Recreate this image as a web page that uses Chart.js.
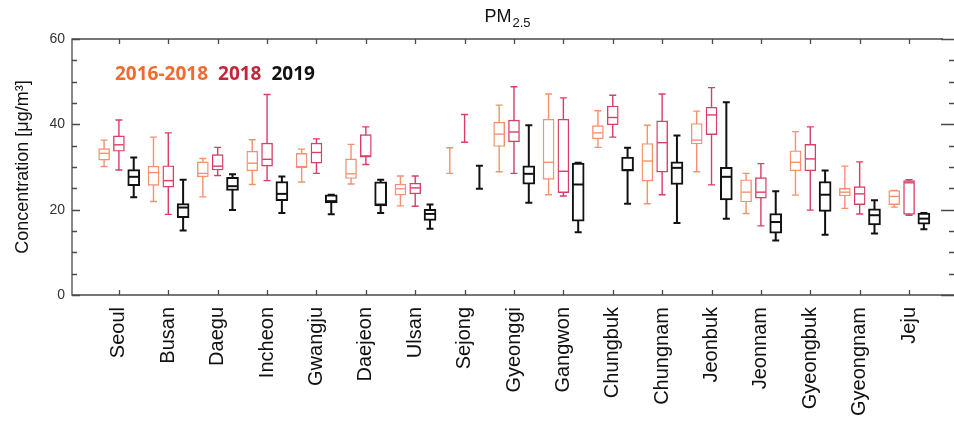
<!DOCTYPE html>
<html>
<head>
<meta charset="utf-8">
<script src="https://cdn.jsdelivr.net/npm/chart.js@4.4.1/dist/chart.umd.min.js"></script>
<style>
  html, body { margin: 0; padding: 0; background: #fff; }
  #wrap { width: 954px; height: 424px; }
</style>
</head>
<body>
<div id="wrap"><canvas id="c" width="954" height="424"></canvas></div>
<script>
// Monitoring regions on the x axis
const regions = ['Seoul','Busan','Daegu','Incheon','Gwangju','Daejeon','Ulsan','Sejong',
  'Gyeonggi','Gangwon','Chungbuk','Chungnam','Jeonbuk','Jeonnam','Gyeongbuk','Gyeongnam','Jeju'];

const seriesNames = ['2016-2018', '2018', '2019'];
const yTickValues = [0, 20, 40, 60];

// PM2.5 distribution per region, 2016-2018 average (µg/m³)
const avgMin = [30.1, 21.9, 23.0, 25.9, 26.5, 26.0, 20.9, 28.5, 28.9, 23.5, 34.6, 21.4, 28.9, 19.1, 23.4, 20.3, 20.6];
const avgQ1  = [31.6, 25.7, 27.7, 29.1, 29.8, 27.3, 23.4, null, 34.8, 27.1, 36.6, 26.7, 35.4, 21.8, 29.1, 23.2, 21.2];
const avgMed = [33.2, 28.7, 28.5, 30.9, 30.1, 28.4, 24.9, null, 37.7, 31.1, 38.0, 31.4, 36.3, 24.1, 31.1, 24.1, 23.1];
const avgQ3  = [34.3, 30.2, 31.2, 33.7, 33.2, 31.9, 26.0, null, 40.5, 41.2, 39.7, 35.5, 40.2, 27.0, 33.8, 25.0, 24.5];
const avgMax = [36.3, 37.0, 32.0, 36.4, 34.2, 35.3, 27.9, 34.5, 44.5, 47.1, 43.2, 39.8, 43.1, 28.5, 38.3, 30.2, 24.5];

// 2018
const y18Min = [29.3, 18.9, 28.0, 26.8, 28.5, 30.6, 20.8, 35.8, 28.5, 23.2, 37.0, 23.5, 25.8, 16.2, 19.9, 19.0, 18.7];
const y18Q1  = [33.7, 25.3, 29.3, 30.2, 30.9, 32.3, 23.7, null, 35.9, 24.0, 39.9, 28.8, 37.6, 22.7, 29.1, 21.2, 18.9];
const y18Med = [35.2, 26.8, 30.2, 31.8, 33.4, 32.6, 25.1, null, 38.2, 29.0, 41.6, 35.7, 42.2, 24.1, 31.9, 23.7, 26.3];
const y18Q3  = [37.3, 30.3, 32.9, 35.6, 35.6, 37.6, 26.2, null, 41.0, 41.2, 44.3, 40.8, 44.0, 27.5, 35.3, 25.4, 26.8];
const y18Max = [41.0, 38.0, 34.6, 47.0, 36.6, 39.4, 27.9, 42.3, 48.8, 46.2, 46.8, 47.1, 48.6, 30.8, 39.4, 31.2, 27.0];

// 2019
const y19Min = [22.9, 15.1, 19.9, 19.2, 18.9, 19.2, 15.5, 24.9, 21.6, 14.7, 21.4, 16.9, 17.9, 12.8, 14.1, 14.4, 15.4];
const y19Q1  = [25.6, 18.1, 24.5, 22.1, 21.6, 20.9, 17.5, null, 26.0, 17.3, 29.0, 25.9, 22.3, 14.5, 19.6, 16.4, 16.6];
const y19Med = [27.7, 20.5, 25.5, 23.7, 22.0, 21.2, 19.0, null, 28.4, 25.9, 29.3, 29.8, 27.7, 17.1, 23.5, 18.7, 17.9];
const y19Q3  = [29.4, 21.4, 27.6, 26.6, 23.5, 26.5, 20.1, null, 30.3, 30.9, 32.3, 31.2, 29.9, 19.1, 26.6, 20.2, 19.2];
const y19Max = [32.2, 27.0, 28.3, 27.8, 23.5, 27.0, 21.2, 30.3, 39.8, 31.0, 34.5, 37.4, 45.2, 24.3, 29.2, 22.2, 19.2];

// Styling per series: colour, legend colour, offset within a region slot, line width, box width
const styles = [
  { color: '#F5916F', legend: '#F26B2E', offset: -0.30, lw: 1.4, box: 11 },
  { color: '#D83E66', legend: '#C3263B', offset: 0.00, lw: 1.4, box: 11 },
  { color: '#111111', legend: '#111111', offset: 0.30, lw: 2.0, box: 12 }
];

const stats = [
  { min: avgMin, q1: avgQ1, med: avgMed, q3: avgQ3, max: avgMax },
  { min: y18Min, q1: y18Q1, med: y18Med, q3: y18Q3, max: y18Max },
  { min: y19Min, q1: y19Q1, med: y19Med, q3: y19Q3, max: y19Max }
];

// Box (q1..q3) as floating bars placed on a linear region axis
const datasets = stats.map((s, k) => {
  const st = styles[k];
  const data = [];
  regions.forEach((r, i) => {
    if (s.q1[i] !== null && s.q3[i] !== null) {
      data.push({ x: i + st.offset, y: [s.q1[i], s.q3[i]], idx: i });
    }
  });
  return {
    label: seriesNames[k],
    data,
    backgroundColor: '#ffffff',
    borderColor: st.color,
    borderWidth: st.lw,
    borderSkipped: false,
    barThickness: st.box,
    grouped: false
  };
});

// Whiskers with caps, drawn under the boxes
const whiskers = {
  id: 'whiskers',
  beforeDatasetsDraw(chart) {
    const { ctx, scales: { x, y } } = chart;
    ctx.save();
    stats.forEach((s, k) => {
      const st = styles[k];
      ctx.strokeStyle = st.color;
      ctx.lineWidth = st.lw;
      const cap = 3.5;
      regions.forEach((r, i) => {
        const px = x.getPixelForValue(i + st.offset);
        const yLo = y.getPixelForValue(s.min[i]);
        const yHi = y.getPixelForValue(s.max[i]);
        ctx.beginPath();
        ctx.moveTo(px, yLo); ctx.lineTo(px, yHi);
        ctx.moveTo(px - cap, yLo); ctx.lineTo(px + cap, yLo);
        ctx.moveTo(px - cap, yHi); ctx.lineTo(px + cap, yHi);
        ctx.stroke();
      });
    });
    ctx.restore();
  },
  afterDatasetsDraw(chart) {
    const { ctx, scales: { x, y }, chartArea: a } = chart;
    ctx.save();
    // median lines
    stats.forEach((s, k) => {
      const st = styles[k];
      ctx.strokeStyle = st.color;
      ctx.lineWidth = st.lw;
      regions.forEach((r, i) => {
        if (s.med[i] === null) return;
        const px = x.getPixelForValue(i + st.offset);
        const py = y.getPixelForValue(s.med[i]);
        const half = st.box / 2 - st.lw / 2;
        ctx.beginPath();
        ctx.moveTo(px - half, py); ctx.lineTo(px + half, py);
        ctx.stroke();
      });
    });

    // frame: left, bottom and top edges (right axis sits at the canvas edge)
    ctx.strokeStyle = '#4a4a4a';
    ctx.lineWidth = 1.3;
    ctx.beginPath();
    ctx.moveTo(a.right - 11, a.top);
    ctx.lineTo(a.left, a.top);
    ctx.lineTo(a.left, a.bottom);
    ctx.lineTo(a.right, a.bottom);
    ctx.stroke();

    // inward ticks
    ctx.beginPath();
    for (let v = 0; v <= 60; v += 5) {
      const py = Math.round(y.getPixelForValue(v)) + 0.5;
      const major = v % 20 === 0;
      ctx.moveTo(a.left, py); ctx.lineTo(a.left + (major ? 8 : 5), py);
      ctx.moveTo(a.right, py); ctx.lineTo(a.right - (major ? 13 : 5), py);
    }
    regions.forEach((r, i) => {
      const px = Math.round(x.getPixelForValue(i)) + 0.5;
      ctx.moveTo(px, a.bottom); ctx.lineTo(px, a.bottom - 5);
      ctx.moveTo(px, a.top); ctx.lineTo(px, a.top + 5);
    });
    ctx.stroke();

    // title with subscript
    const cx = (a.left + a.right - 11) / 2;
    ctx.fillStyle = '#111';
    ctx.textBaseline = 'alphabetic';
    ctx.textAlign = 'left';
    const mainFont = '18px "Liberation Sans", Arial, sans-serif';
    const subFont = '13px "Liberation Sans", Arial, sans-serif';
    ctx.font = mainFont;
    const wMain = ctx.measureText('PM').width;
    ctx.font = subFont;
    const wSub = ctx.measureText('2.5').width;
    const x0 = cx - (wMain + 1 + wSub) / 2;
    ctx.font = mainFont;
    ctx.fillText('PM', x0, 22);
    ctx.font = subFont;
    ctx.fillText('2.5', x0 + wMain + 1, 26.5);

    // series legend as coloured text
    ctx.font = 'bold 19px "Open Sans", "Noto Sans", sans-serif';
    let lx = 115;
    seriesNames.forEach((name, k) => {
      ctx.fillStyle = styles[k].legend;
      ctx.fillText(name, lx, 80);
      lx += ctx.measureText(name).width + 10;
    });
    ctx.restore();
  }
};

new Chart(document.getElementById('c'), {
  type: 'bar',
  data: { datasets },
  options: {
    responsive: false,
    animation: false,
    events: [],
    layout: { padding: { top: 39, right: 0, left: 0, bottom: 0 } },
    plugins: { legend: { display: false }, tooltip: { enabled: false }, title: { display: false } },
    scales: {
      x: {
        type: 'linear',
        offset: false,
        min: -0.95,
        max: 16.91,
        grid: { display: false, drawTicks: false, offset: false },
        border: { display: false },
        afterBuildTicks: (s) => { s.ticks = regions.map((r, i) => ({ value: i })); },
        afterFit: (s) => { s.height = 129; },
        ticks: {
          autoSkip: false,
          minRotation: 90,
          maxRotation: 90,
          padding: 12,
          color: '#111',
          font: { family: '"Liberation Sans", Arial, sans-serif', size: 20 },
          callback: (v) => regions[v]
        }
      },
      y: {
        min: 0,
        max: 60,
        grid: { display: false, drawTicks: false },
        border: { display: false },
        afterBuildTicks: (s) => { s.ticks = yTickValues.map(v => ({ value: v })); },
        afterFit: (s) => { s.width = 72; },
        ticks: {
          padding: 7,
          color: '#333',
          font: { family: '"Liberation Sans", Arial, sans-serif', size: 14 }
        },
        title: {
          display: true,
          text: 'Concentration [μg/m³]',
          color: '#111',
          padding: { top: 12, bottom: 0 },
          font: { family: '"Liberation Sans", Arial, sans-serif', size: 18 }
        }
      }
    }
  },
  plugins: [whiskers]
});
</script>
</body>
</html>
